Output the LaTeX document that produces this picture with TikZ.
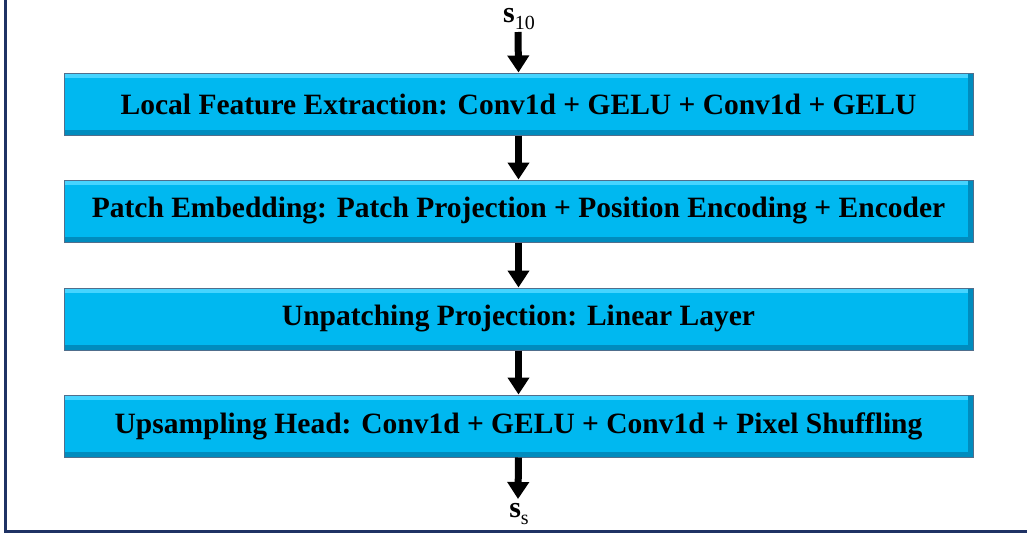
\documentclass[tikz,border=0pt]{standalone}
\usepackage{fontspec}
\setmainfont{Liberation Serif}
\usetikzlibrary{arrows.meta,positioning}
\definecolor{boxfill}{RGB}{0,184,240}
\definecolor{boxlight}{RGB}{70,212,255}
\definecolor{boxdark}{RGB}{0,140,190}
\definecolor{boxedge}{RGB}{80,110,140}
\definecolor{framecol}{RGB}{31,50,100}
\tikzset{
  stage/.style={minimum width=909pt, minimum height=62pt, inner sep=0pt,
    font=\fontsize{29.5}{32}\selectfont\bfseries, fill=boxfill, draw=boxedge, line width=1pt,
    path picture={
      \fill[boxlight] (path picture bounding box.north west) rectangle ([yshift=-5pt]path picture bounding box.north east);
      \fill[boxdark] ([yshift=5pt]path picture bounding box.south west) rectangle (path picture bounding box.south east);
      \fill[boxdark] ([xshift=-5pt]path picture bounding box.north east) rectangle (path picture bounding box.south east);
      \fill[boxfill] ([xshift=5pt,yshift=-5pt]path picture bounding box.north west) rectangle ([xshift=-5pt,yshift=5pt]path picture bounding box.south east);
    }},
  sig/.style={font=\fontsize{30}{33}\selectfont, inner sep=0pt},
  flow/.style={line width=7pt, -{Triangle[width=21pt,length=17pt]}},
}
\newcommand{\sigsub}[1]{\raisebox{-0.25em}{\fontsize{20}{23}\selectfont #1}}
\begin{document}
\begin{tikzpicture}[x=1pt,y=-1pt]
\useasboundingbox (0,0) rectangle (1027,533);
\draw[framecol, line width=3pt] (5,0) -- (5,531) -- (1027,531);
\node[sig] (in) at (519,19) {\textbf{s}\sigsub{10}};
\node[stage] (b1) at (518.5,104) {Local Feature Extraction: Conv1d + GELU + Conv1d + GELU};
\node[stage] (b2) at (518.5,211) {Patch Embedding: Patch Projection + Position Encoding + Encoder};
\node[stage] (b3) at (518.5,319) {Unpatching Projection: Linear Layer};
\node[stage] (b4) at (518.5,426) {Upsampling Head: Conv1d + GELU + Conv1d + Pixel Shuffling};
\node[sig] (out) at (519,514) {\textbf{s}\sigsub{s}};
\coordinate (inS) at (518,32);
\coordinate (outN) at (518,499);
\draw[flow] (inS) -- (b1.north);
\draw[flow] (b1.south) -- (b2.north);
\draw[flow] (b2.south) -- (b3.north);
\draw[flow] (b3.south) -- (b4.north);
\draw[flow] (b4.south) -- (outN);
\end{tikzpicture}
\end{document}
